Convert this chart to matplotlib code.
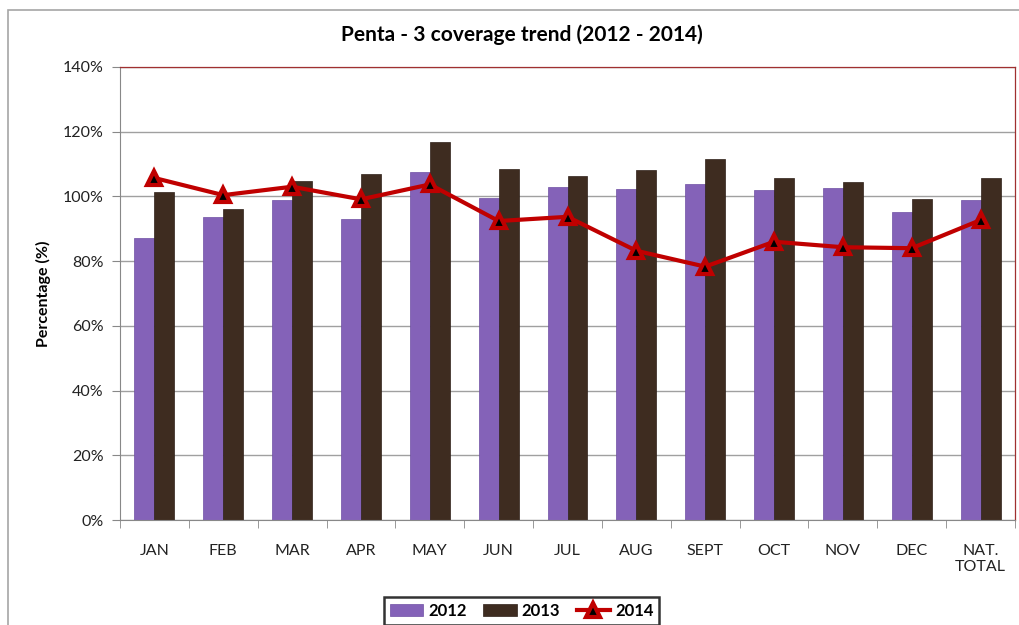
# -*- coding: UTF-8 -*-
import numpy as np
import matplotlib.pyplot as plt
from matplotlib.patches import Rectangle
from matplotlib.ticker import FuncFormatter, FixedLocator

plt.rcParams['font.family'] = ['Lato', 'DejaVu Sans']

months = ["JAN", "FEB", "MAR", "APR", "MAY", "JUN", "JUL", "AUG", "SEPT",
          "OCT", "NOV", "DEC", "NAT.\nTOTAL"]
cov_2012 = [87.1, 93.7, 98.8, 92.9, 107.4, 99.5, 102.9, 102.4, 103.8, 101.9, 102.6, 95.3, 99.0]
cov_2013 = [101.4, 96.1, 104.9, 107.0, 116.7, 108.5, 106.3, 108.3, 111.6, 105.6, 104.6, 99.2, 105.8]
cov_2014 = [105.7, 100.4, 103.0, 99.1, 103.7, 92.4, 93.7, 83.2, 78.3, 86.0, 84.3, 84.0, 92.7]

fig = plt.figure(figsize=(10.19, 6.25), dpi=100)
# outer chart frame
fig.patches.append(Rectangle((8 / 1019, -0.1), 1.2, 1.1 - 10 / 625, transform=fig.transFigure,
                             fill=False, edgecolor='#A6A6A6', lw=1.2))
ax = fig.add_axes([120 / 1019, 105 / 625, 895 / 1019, 453 / 625])

x = np.arange(len(months))
w = 0.29
b1 = ax.bar(x - w / 2, cov_2012, w, color='#8462B8', edgecolor='#6E4FA3', lw=0.5, label='2012', zorder=2)
b2 = ax.bar(x + w / 2, cov_2013, w, color='#3E2C20', edgecolor='#2E2018', lw=0.5, label='2013', zorder=2)
l3, = ax.plot(x, cov_2014, color='#C00000', lw=3, marker='^', ms=10, mfc='black', mec='#C00000',
              mew=3, label='2014', zorder=3)

ax.set_xlim(-0.5, len(months) - 0.5)
ax.set_ylim(0, 140)
ax.set_yticks(np.arange(0, 141, 20))
ax.yaxis.set_major_formatter(FuncFormatter(lambda v, p: f"{v:.0f}%"))
ax.grid(axis='y', color='#A0A0A0', lw=1, zorder=0)
ax.set_axisbelow(True)

ax.set_xticks(x)
ax.set_xticklabels(months)
ax.xaxis.set_minor_locator(FixedLocator(np.arange(-0.5, len(months), 1)))
ax.tick_params(axis='x', which='major', length=0, pad=17, labelsize=11.5, colors='#222222')
ax.tick_params(axis='x', which='minor', length=6, color='#888888')
ax.tick_params(axis='y', length=6, color='#888888', labelsize=11.5, labelcolor='#222222', pad=6)

for s in ['left', 'bottom']:
    ax.spines[s].set_color('#888888')
for s in ['top', 'right']:
    ax.spines[s].set_color('#A03030')
    ax.spines[s].set_linewidth(0.9)

ax.set_ylabel("Percentage (%)", fontsize=11.5, fontweight='bold', labelpad=8)
fig.text(0.512, 0.944, "Penta - 3 coverage trend (2012 - 2014)", ha='center', va='center',
         fontsize=15, fontweight='bold')

leg = fig.legend([b1, b2, l3], ['2012', '2013', '2014'], loc='upper center',
                 bbox_to_anchor=(0.512, 0.058), ncol=3, frameon=True,
                 fancybox=False, edgecolor='black', handlelength=2.0, columnspacing=1.0,
                 handletextpad=0.3, prop={'weight': 'bold', 'size': 12}, borderpad=0.35)
leg.get_frame().set_linewidth(1.8)

fig.savefig('out.png', dpi=100)
